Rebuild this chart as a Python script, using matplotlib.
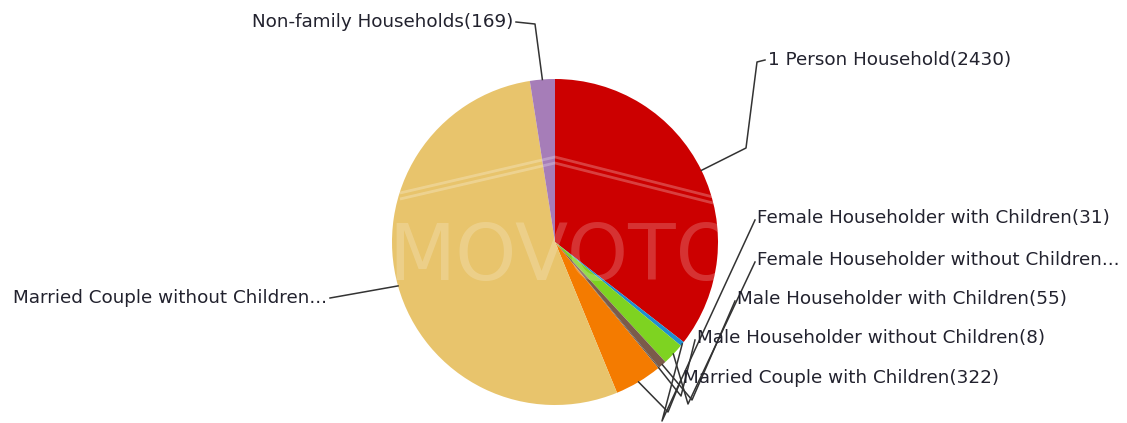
import numpy as np
import matplotlib
matplotlib.use("Agg")
import matplotlib.pyplot as plt

categories = [
    "1 Person Household",
    "Female Householder with Children",
    "Female Householder without Children",
    "Male Householder with Children",
    "Male Householder without Children",
    "Married Couple with Children",
    "Married Couple without Children",
    "Non-family Households",
]
values = [2430, 31, 150, 55, 8, 322, 3677, 169]
colors = ["#CC0000", "#1E8FD0", "#7ED321", "#7B5B4A", "#5A5A5A",
          "#F47B00", "#E8C46C", "#A67DB8"]
label_texts = [
    "1 Person Household(2430)",
    "Female Householder with Children(31)",
    "Female Householder without Children...",
    "Male Householder with Children(55)",
    "Male Householder without Children(8)",
    "Married Couple with Children(322)",
    "Married Couple without Children...",
    "Non-family Households(169)",
]

W, H = 1127, 423
fig = plt.figure(figsize=(W / 100, H / 100), dpi=100)
ax = fig.add_axes([0, 0, 1, 1])

def Y(y):
    return H - y

cx, cy, R = 555, 242, 163
wedges, _ = ax.pie(values, colors=colors, startangle=90, counterclock=False,
                   center=(cx, Y(cy)), radius=R, frame=True,
                   wedgeprops=dict(linewidth=0))

# watermark
ax.text(cx + 8, Y(258), "MOVOTO", ha="center", va="center", fontsize=56,
        color="white", alpha=0.2, family="DejaVu Sans")
for off in (0, 6):
    ax.plot([400, 555, 713], [Y(193 + off), Y(157 + off), Y(197 + off)],
            color="white", alpha=0.25, lw=2, solid_capstyle="butt")

# label layouts: (text anchor x, y, ha, [elbow points...])
layout = [
    (768, 60, "left", [(746, 148), (757, 62), (765, 60)]),
    (757, 218, "left", [(662, 421), (755, 220)]),
    (757, 260, "left", [(688, 404), (755, 262)]),
    (737, 299, "left", [(692, 400), (735, 301)]),
    (697, 338, "left", [(681, 396), (695, 340)]),
    (683, 378, "left", [(668, 412), (681, 380)]),
    (327, 298, "right", [(330, 298)]),
    (513, 22, "right", [(535, 24), (516, 22)]),
]

total = float(sum(values))
cum = 0.0
for v, txt, (tx, ty, ha, pts) in zip(values, label_texts, layout):
    mid = (cum + v / 2) / total * 360.0
    cum += v
    ex = cx + R * np.sin(np.radians(mid))
    ey = cy - R * np.cos(np.radians(mid))
    xs = [ex] + [p[0] for p in pts]
    ys = [Y(ey)] + [Y(p[1]) for p in pts]
    ax.plot(xs, ys, color="#333333", lw=1.1)
    ax.text(tx, Y(ty), txt, ha=ha, va="center", fontsize=13.2,
            color="#22222e", family="DejaVu Sans")

ax.set_xlim(0, W)
ax.set_ylim(0, H)
ax.set_aspect("equal")
ax.axis("off")
fig.savefig("out.png", dpi=100, facecolor="white")
